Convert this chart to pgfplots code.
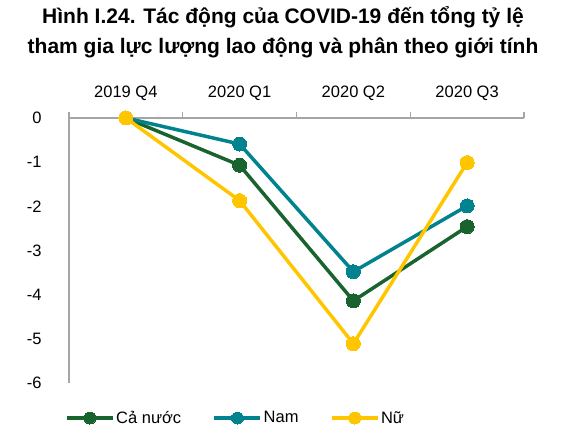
\documentclass[border=0pt]{standalone}
\usepackage{pgfplots}
\pgfplotsset{compat=1.18}
\usepackage{fontspec}
\setmainfont{Liberation Sans}
\definecolor{cgreen}{RGB}{24,99,46}
\definecolor{cteal}{RGB}{0,131,143}
\definecolor{cyellow}{RGB}{255,198,0}
\definecolor{axgray}{RGB}{165,165,165}
\begin{document}
\begin{tikzpicture}
\path[use as bounding box] (0pt,0pt) rectangle (564pt,441pt);
\node[align=center, font=\bfseries\fontsize{21}{30}\selectfont] at (283pt,409pt)
  {Hình I.24. Tác động của COVID-19 đến tổng tỷ lệ\\tham gia lực lượng lao động và phân theo giới tính};
\begin{axis}[
  at={(69pt,58pt)}, anchor=south west,
  scale only axis, width=455pt, height=265pt,
  xmin=-0.5, xmax=3.5, ymin=-6, ymax=0,
  axis x line*=top, axis y line*=left,
  axis line style={axgray, line width=1.2pt},
  xtick={0,1,2,3},
  xticklabels={2019 Q4,2020 Q1,2020 Q2,2020 Q3},
  ytick={-6,-5,-4,-3,-2,-1,0},
  yticklabels={-6,-5,-4,-3,-2,-1,0},
  major tick length=0pt,
  tick align=outside,
  extra x ticks={-0.5,0.5,1.5,2.5,3.5},
  extra x tick labels={},
  extra x tick style={major tick length=6pt, tick style={axgray, line width=1.2pt}},
  ticklabel style={font=\fontsize{16.5}{18}\selectfont},
  xticklabel style={yshift=14pt},
  yticklabel style={xshift=-24pt},
  clip=false,
  legend columns=3,
  legend style={draw=none, fill=none, at={(rel axis cs:0,0)}, anchor=west,
    yshift=-35pt, xshift=-4pt, inner sep=0pt,
    font=\fontsize{16.5}{18}\selectfont,
    nodes={inner sep=1.5pt},
    /tikz/every even column/.append style={column sep=30pt}},
  legend image code/.code={\draw[mark repeat=2,mark phase=2,#1,mark size=6pt] plot coordinates {(0pt,0pt) (23pt,0pt) (46pt,0pt)};},
  every axis plot/.append style={line width=3.5pt, mark=*, mark size=7pt},
]
\addplot[cgreen, mark options={fill=cgreen, draw=cgreen, line width=0pt}] coordinates {(0,0) (1,-1.07) (2,-4.14) (3,-2.46)};
\addlegendentry{Cả nước}
\addplot[cteal, mark options={fill=cteal, draw=cteal, line width=0pt}] coordinates {(0,0) (1,-0.59) (2,-3.48) (3,-1.99)};
\addlegendentry{Nam}
\addplot[cyellow, mark options={fill=cyellow, draw=cyellow, line width=0pt}] coordinates {(0,0) (1,-1.87) (2,-5.11) (3,-1.01)};
\addlegendentry{Nữ}
\end{axis}
\end{tikzpicture}
\end{document}
